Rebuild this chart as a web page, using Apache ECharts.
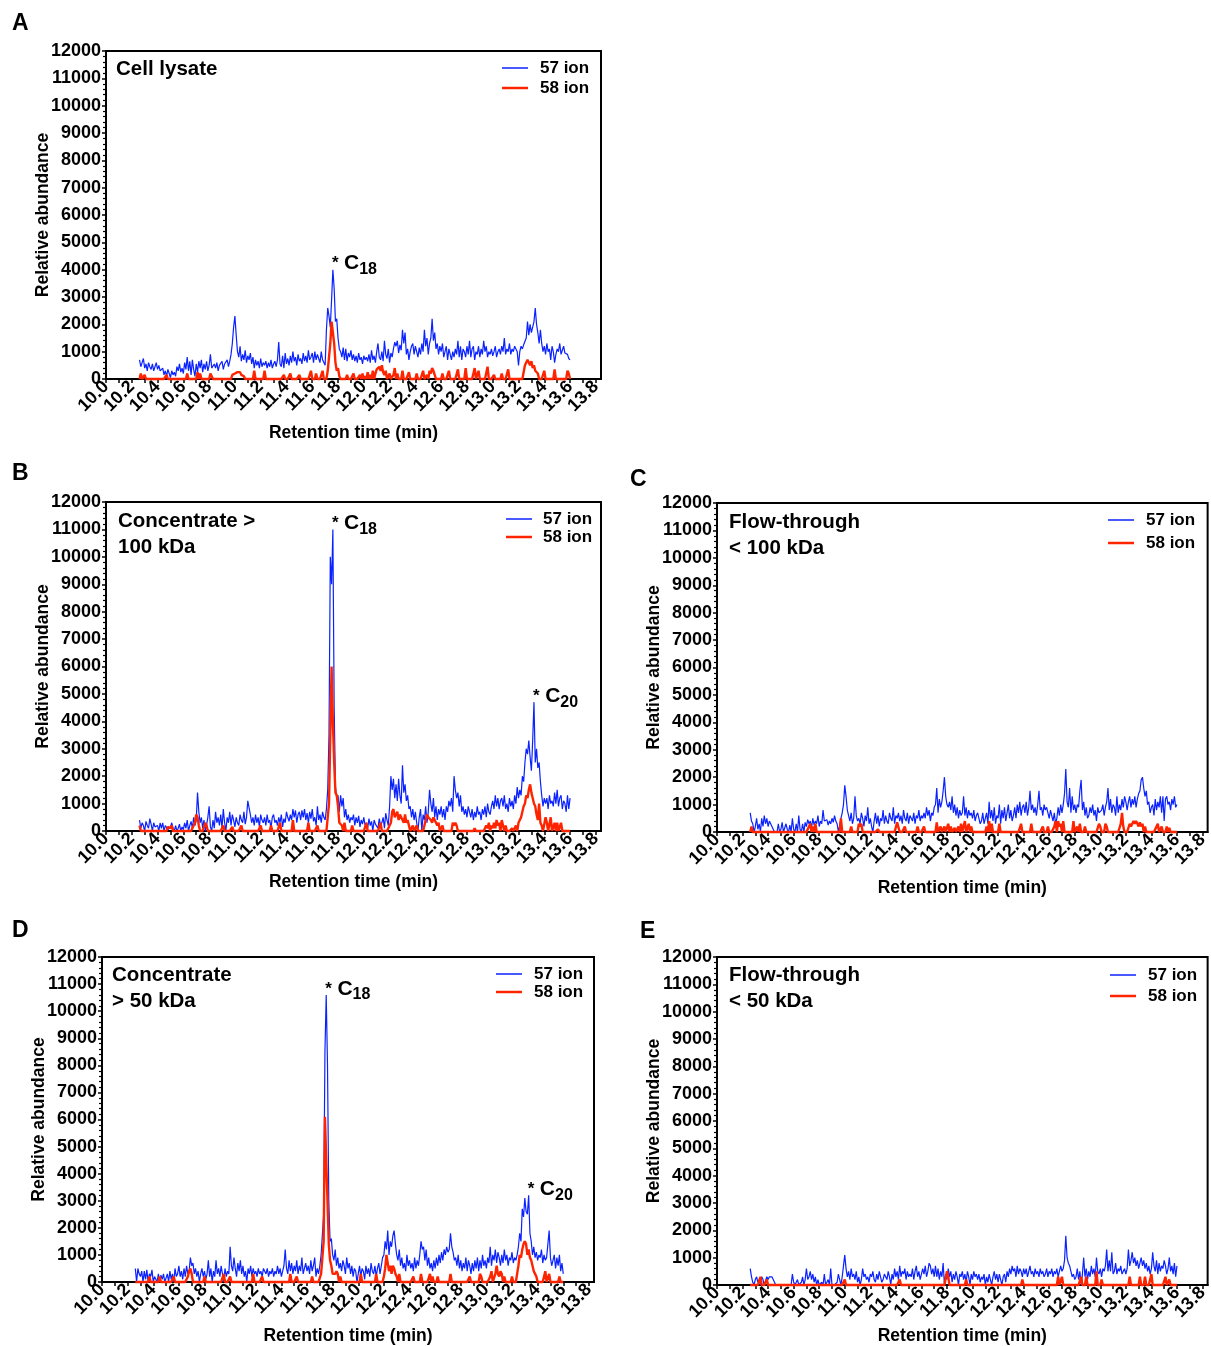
<!DOCTYPE html>
<html>
<head>
<meta charset="utf-8">
<script src="https://cdn.jsdelivr.net/npm/echarts@6/dist/echarts.min.js"></script>
<style>
  html, body { margin: 0; padding: 0; background: #fff; }
  #chart { width: 1211px; height: 1346px; }
</style>
</head>
<body>
<div id="chart"></div>
<script>
// Extracted ion chromatograms (m/z 57 and 58), one scan every 0.01 min starting at 10.26 min.
const scanStart = 10.26;
const scanStep = 0.01;

// A: cell lysate
const cellLysate57 = [
  700, 450, 600, 750,
  400, 550, 300, 600, 450, 350, 550, 300, 450, 600,
  350, 500, 300,
  250, 400, 150, 300, 100, 350, 200, 50, 300, 150,
  250, 100, 450, 300, 550, 250, 400, 200, 600, 350,
  800, 300, 650, 150, 700, 350, 100, 550, 250, 650,
  400, 700, 250, 550, 350, 650, 300, 500, 900, 400,
  350, 550, 400, 600, 300, 500, 450, 650, 350, 550,
  500, 700, 450, 650, 900, 1300, 1900, 2300, 1600, 1000,
  800, 1200, 650, 900, 700, 1050, 600, 850, 700, 950,
  550, 800, 400, 700, 500, 650, 400, 750, 450, 600,
  500, 650, 400, 600, 450, 700, 400, 550, 650, 450,
  700, 1350, 550, 450, 850, 400, 950, 550, 750, 500,
  850, 600, 1000, 650, 800, 500, 900, 650, 750, 550,
  950, 650, 850, 600, 1050, 700, 800, 950, 600, 1000,
  700, 900, 750, 600, 1000, 700, 600, 500, 1800,
  2600, 2300, 1900, 2900, 4000, 3300, 2100, 2200, 1500, 1100,
  1000, 800, 1150, 700, 1100, 650, 950, 800, 1050, 700,
  900, 650, 850, 600, 950, 700, 800, 550, 850, 700,
  800, 650, 900, 600, 1050, 700, 850, 600, 1000, 1300,
  800, 700, 1000, 650, 1400, 900, 750, 1100, 600, 950,
  800, 1100, 1350, 1200, 1400, 950, 1250, 1050, 1800, 1300,
  1700, 900, 1100, 700, 1000, 1200, 1300, 900, 1200,
  1000, 800, 1150, 900, 1300, 1000, 1800, 1200, 1500, 900,
  1300, 1500, 2200, 1400, 1700, 1100, 1300, 900, 1200, 1000,
  1300, 800, 1000, 1200, 700, 1100, 900, 700, 1000, 800,
  1100, 900, 1400, 800, 1200, 700, 1100, 1000, 800, 1200,
  900, 1400, 800, 1100, 1200, 700, 1000, 900, 1200, 800,
  1100, 900, 1400, 1000, 1200, 800, 1000, 900, 1100, 850,
  1000, 1200, 800, 1000, 1100, 900, 1200, 1000, 1500,
  900, 1100, 1000, 1300, 900, 1100, 1000, 1200, 1100, 1000,
  500, 1000, 1200, 1100, 1250, 1200, 1500, 2100, 1600, 2000,
  1700, 1900, 2100, 2600, 2000, 1700, 1300, 1800, 1300, 1000,
  1200, 900, 1300, 1000, 1100, 700, 1200, 1000, 600, 900,
  1100, 1000, 1300, 900, 1050, 1200, 950, 1000, 900, 750,
  700
];
const cellLysate58 = [
  0, 200, 0, 0,
  150, 0, 0, 0, 0, 0, 0, 0, 0, 0,
  0, 0, 0,
  0, 0, 0, 0, 150, 0, 0, 0, 0, 0,
  0, 0, 0, 0, 0, 0, 0, 0, 0, 0,
  200, 0, 0, 0, 0, 0, 0, 0, 250, 0,
  200, 0, 0, 0, 0, 0, 0, 0, 200, 100,
  0, 0, 0, 0, 0, 0, 0, 0, 0, 0,
  0, 0, 0, 0, 0, 150, 200, 200, 150, 250,
  200, 250, 150, 200, 100, 0, 0, 0, 0, 0,
  0, 0, 300, 0, 0, 0, 0, 0, 0, 0,
  300, 0, 0, 0, 0, 0, 0, 0, 0, 0,
  0, 0, 0, 0, 0, 150, 0, 0, 0, 0,
  200, 0, 0, 0, 0, 0, 0, 150, 0, 0,
  0, 0, 0, 0, 0, 0, 300, 0, 0, 0,
  200, 0, 0, 0, 0, 300, 0, 0, 0,
  300, 800, 1300, 2100, 2100, 1300, 600, 300, 400, 100,
  0, 0, 0, 0, 0, 150, 0, 0, 0, 0,
  200, 0, 0, 0, 0, 150, 0, 200, 0, 100,
  0, 250, 0, 150, 0, 300, 0, 200, 350, 300,
  450, 300, 500, 250, 150, 300, 0, 0, 200, 0,
  0, 150, 400, 0, 200, 0, 0, 0, 300, 0,
  0, 0, 0, 250, 0, 0, 0, 0, 0,
  200, 0, 0, 0, 0, 300, 0, 0, 150, 0,
  300, 200, 400, 300, 150, 0, 0, 0, 0, 0,
  200, 0, 0, 0, 0, 300, 0, 0, 0, 0,
  0, 0, 350, 0, 0, 0, 0, 0, 400, 0,
  0, 0, 0, 0, 0, 400, 0, 0, 300, 0,
  0, 0, 0, 0, 0, 450, 0, 0, 0, 0,
  150, 0, 0, 0, 0, 0, 200, 0, 0,
  0, 0, 350, 0, 0, 0, 0, 0, 0, 0,
  0, 0, 0, 0, 0, 500, 600, 700, 650, 500,
  650, 400, 500, 300, 350, 200, 0, 0, 0, 0,
  300, 0, 0, 0, 0, 0, 0, 0, 350, 0,
  0, 0, 0, 0, 0, 0, 0, 0, 300, 200,
  0
];

// B: concentrate > 100 kDa
const conc100k57 = [
  400, 100, 300, 200,
  0, 350, 200, 100, 450, 250, 0, 300, 150, 200,
  200, 0, 300,
  100, 300, 0, 200, 250, 50, 0, 150, 300, 100,
  0, 200, 0, 100, 250, 0, 150, 50, 300, 100,
  400, 0, 200, 350, 100, 500, 200, 400, 1400, 700,
  300, 500, 100, 400, 0, 200, 500, 900, 150, 0,
  400, 100, 700, 300, 500, 200, 600, 100, 800, 300,
  0, 500, 300, 700, 200, 600, 400, 150, 500, 300,
  200, 600, 400, 300, 700, 250, 500, 1100, 1100, 600,
  300, 500, 200, 600, 300, 500, 150, 600, 400, 300,
  500, 200, 600, 300, 400, 100, 500, 600, 300, 400,
  200, 500, 300, 600, 150, 450, 300, 700, 500, 350,
  600, 400, 800, 500, 750, 300, 600, 700, 400, 750,
  500, 800, 400, 650, 300, 700, 450, 800, 350,
  500, 200, 900, 400, 600, 300, 700, 500, 400, 800,
  1500, 3500, 10000, 9000, 11000, 4500, 1600, 1200, 1300, 700,
  1300, 900, 1200, 500, 800, 400, 600, 300, 500, 400,
  600, 200, 500, 300, 550, 150, 400, 250, 500, 200,
  300, 100, 450, 200, 350, 0, 400, 250, 300, 100,
  450, 200, 300, 500, 100, 650, 400, 200, 900, 2000,
  1500, 1900, 1200, 1700, 1100, 1900, 1300, 1000, 2400, 1400,
  1700, 1100, 1300, 800, 900, 500, 800, 400, 700,
  300, 0, 500, 800, 0, 600, 400, 900, 300, 700,
  1500, 1000, 700, 1200, 500, 900, 400, 800, 600, 900,
  500, 800, 400, 900, 700, 1100, 900, 1200, 700, 2000,
  1500, 1200, 1400, 900, 1300, 700, 900, 600, 800, 500,
  900, 700, 500, 800, 400, 700, 500, 900, 600, 700,
  400, 800, 600, 900, 500, 1000, 700, 600, 900, 1100,
  800, 1300, 900, 1200, 800, 1100, 1200, 900, 1300,
  800, 1000, 700, 1200, 900, 1100, 800, 1300, 1000, 1600,
  1200, 1500, 1300, 2000, 1800, 2500, 3000, 2800, 3300, 2700,
  2200, 3300, 4700, 2500, 3000, 2300, 2500, 1800, 1300, 900,
  1200, 1000, 1200, 800, 1300, 1000, 1100, 900, 1400, 1000,
  1500, 900, 1200, 1300, 800, 1100, 1000, 700, 1300, 800,
  1200
];
const conc100k58 = [
  200, 0, 0, 0,
  0, 0, 0, 0, 0, 0, 0, 0, 0, 0,
  0, 0, 0,
  0, 0, 0, 0, 0, 150, 200, 100, 200, 0,
  0, 0, 0, 0, 0, 0, 0, 0, 0, 0,
  0, 0, 0, 0, 100, 200, 300, 600, 500, 200,
  0, 0, 0, 0, 300, 200, 0, 0, 0, 0,
  0, 0, 0, 0, 0, 0, 0, 0, 200, 0,
  0, 0, 0, 0, 0, 150, 0, 0, 0, 0,
  0, 0, 200, 0, 0, 0, 0, 0, 0, 0,
  0, 0, 0, 0, 0, 0, 0, 200, 0, 0,
  0, 0, 0, 0, 0, 200, 0, 0, 0, 0,
  0, 0, 300, 0, 0, 0, 0, 0, 0, 0,
  0, 0, 400, 0, 0, 0, 0, 0, 0, 0,
  0, 0, 0, 0, 300, 0, 0, 0, 0,
  0, 0, 200, 0, 0, 0, 0, 0, 0, 0,
  0, 1000, 3500, 6000, 4000, 2500, 1400, 1300, 900, 300,
  300, 200, 0, 300, 0, 0, 0, 0, 0, 200,
  0, 0, 0, 0, 0, 0, 0, 0, 0, 0,
  300, 0, 0, 0, 0, 0, 0, 0, 0, 0,
  0, 300, 0, 0, 0, 0, 0, 0, 200, 300,
  700, 800, 500, 600, 700, 400, 600, 500, 400, 300,
  600, 300, 400, 200, 0, 0, 200, 0, 0,
  200, 0, 0, 0, 0, 0, 0, 400, 600, 500,
  500, 400, 300, 500, 400, 300, 200, 300, 0, 0,
  200, 0, 0, 0, 0, 0, 0, 0, 300, 200,
  300, 200, 0, 0, 0, 0, 0, 0, 0, 0,
  0, 0, 0, 0, 0, 100, 0, 0, 0, 0,
  0, 0, 0, 0, 200, 100, 300, 0, 200, 100,
  300, 100, 400, 200, 300, 0, 400, 200, 0,
  200, 0, 0, 0, 0, 100, 0, 0, 200, 0,
  300, 400, 500, 700, 900, 1000, 1300, 1200, 1500, 1700,
  1400, 1200, 1000, 900, 600, 400, 1000, 300, 200, 0,
  0, 500, 300, 0, 0, 500, 0, 0, 300, 0,
  300, 0, 0, 300, 0, 0, 0, 0, 0, 0,
  0
];

// C: flow-through < 100 kDa
const flow100k57 = [
  700, 400, 300, 0,
  200, 500,
  100, 300, 0, 500, 200, 600, 300, 500, 200, 400,
  300, 200, 250, 0, 0, 0, 300, 0, 100, 350,
  0, 0, 300, 100, 0, 250, 0, 500, 100, 0,
  300, 0, 600, 100, 0, 300, 0, 350, 200, 450,
  300, 400, 150, 500, 250, 400, 300, 600, 200, 400,
  300, 800, 400, 350, 450, 250, 400, 300, 500, 350,
  600, 400, 300, 0, 250, 500, 700, 1000, 1700, 1300,
  800, 600, 400, 700, 300, 500, 1300, 600, 400, 500,
  300, 700, 500, 200, 600, 400, 900, 300, 500, 200,
  0, 400, 700, 300, 600, 200, 500, 400, 800, 300,
  600, 400, 300, 700, 500, 400, 900, 300, 600, 500,
  700, 400, 600, 300, 800, 500, 400, 700, 300, 600,
  500, 400, 700, 300, 600, 500, 800, 400, 600, 500,
  700, 500, 900, 600, 800, 400, 700, 600, 900, 1000,
  1600, 700, 1200, 900, 1100, 1500, 2000, 1300, 1000, 900,
  1100, 800, 1300, 700, 1000, 600, 900, 500, 800, 600,
  700, 1300, 600, 900, 500, 800, 600, 700, 500, 800,
  400, 600, 700, 500, 300, 400, 700, 300, 500,
  700, 300, 1100, 500, 800, 400, 900, 300, 600, 500,
  1000, 300, 800, 500, 900, 400, 700, 1000, 500, 800,
  400, 600, 900, 500, 1000, 700, 1100, 600, 900, 1000,
  700, 1100, 600, 900, 1500, 800, 1000, 700, 900, 600,
  1000, 1500, 800, 900, 600, 1000, 800, 900, 700, 500,
  800, 600, 400, 700, 300, 500, 900, 600, 1000, 700,
  1000, 1400, 2300, 1100, 900, 1600, 700, 1300, 800, 1000,
  700, 1000, 900, 1500, 1900, 800, 1100, 600, 900, 500,
  600, 900, 700, 1000, 600, 800, 400, 900, 700, 700,
  800, 1000, 600, 900, 1100, 1600, 800, 1200, 700, 1000,
  900, 600, 1300, 700, 1000, 800, 1200, 900, 1300, 1100,
  800, 1100, 1300, 900, 1200, 1000, 1300, 900, 1200, 1400,
  1500, 1900, 2000, 1600, 1300, 1500, 1000, 1100, 700, 900,
  1000, 600, 1200, 800, 1100, 900, 1300, 700, 1300, 400,
  1200, 1300, 1000, 1100, 800, 1200, 1000, 1300, 900, 1000
];
const flow100k58 = [
  0, 200, 0, 0,
  0, 0,
  0, 0, 0, 0, 0, 0, 0, 0, 0, 0,
  0, 0, 0, 0, 0, 0, 0, 0, 0, 0,
  0, 0, 0, 0, 0, 0, 0, 0, 0, 0,
  0, 0, 0, 0, 0, 0, 0, 0, 0, 0,
  200, 300, 0, 200, 0, 300, 0, 0, 0, 0,
  0, 0, 0, 0, 0, 0, 0, 0, 0, 0,
  0, 0, 0, 0, 0, 500, 0, 0, 0, 0,
  0, 0, 0, 200, 0, 0, 0, 0, 0, 300,
  200, 300, 0, 0, 0, 0, 0, 0, 0, 0,
  0, 0, 0, 0, 100, 0, 0, 0, 0, 0,
  0, 0, 0, 0, 0, 0, 0, 0, 0, 350,
  300, 0, 0, 0, 0, 200, 0, 0, 0, 0,
  0, 0, 0, 0, 0, 200, 0, 0, 0, 0,
  200, 0, 0, 0, 0, 0, 0, 0, 0, 0,
  350, 0, 100, 200, 0, 100, 200, 0, 150, 300,
  0, 200, 0, 0, 150, 0, 0, 200, 0, 300,
  0, 0, 400, 0, 0, 300, 0, 200, 0, 0,
  0, 0, 0, 0, 0, 0, 0, 0, 0,
  200, 0, 400, 0, 300, 0, 0, 0, 0, 0,
  300, 0, 0, 0, 0, 0, 0, 0, 0, 0,
  0, 0, 0, 0, 0, 0, 0, 300, 0, 0,
  0, 0, 0, 0, 0, 300, 0, 0, 0, 0,
  0, 0, 0, 0, 200, 0, 0, 0, 200, 0,
  0, 0, 0, 200, 400, 0, 400, 200, 300, 0,
  400, 0, 0, 0, 0, 0, 0, 0, 400, 0,
  0, 200, 0, 300, 0, 0, 0, 200, 0, 0,
  0, 0, 0, 0, 0, 0, 0, 0, 300, 200,
  0, 0, 0, 300, 200, 0, 0, 0, 0, 0,
  0, 0, 0, 0, 0, 300, 700, 200, 0, 0,
  0, 0, 300, 200, 300, 400, 300, 400, 300, 200,
  350, 200, 300, 0, 200, 0, 0, 0, 0, 0,
  0, 0, 0, 200, 300, 0, 0, 200, 0, 0,
  0, 200, 0, 150, 0, 0, 0, 0, 0, 0
];

// D: concentrate > 50 kDa
const conc50k57 = [
  500, 0, 500, 300,
  200, 400,
  0, 400, 100, 450, 0, 300, 200, 450, 0, 200,
  100, 0, 300, 0, 250, 100, 300, 0, 150, 300,
  0, 400, 100, 300, 0, 500, 200, 300, 600, 200,
  400, 100, 500, 200, 600, 300, 400, 900, 600, 700,
  300, 500, 200, 400, 0, 300, 500, 200, 400, 100,
  300, 800, 200, 500, 0, 400, 200, 800, 300, 500,
  200, 600, 300, 0, 500, 200, 400, 300, 1300, 600,
  400, 900, 500, 200, 700, 400, 800, 300, 600, 200,
  400, 0, 500, 300, 600, 200, 500, 300, 400, 200,
  500, 300, 400, 200, 500, 400, 300, 500, 200, 400,
  300, 500, 200, 400, 300, 600, 300, 500, 200, 400,
  600, 1200, 500, 300, 800, 400, 700, 300, 600, 400,
  800, 300, 600, 400, 900, 300, 500, 700, 400, 600,
  300, 800, 400, 600, 900, 200, 500, 300, 600, 1000,
  1000, 2500, 8500, 10600, 8000, 3000, 1500, 1600, 1000, 800,
  1200, 600, 900, 500, 700, 400, 800, 600, 300, 900,
  500, 700, 300, 600, 200, 500, 400, 0, 300, 600,
  200, 500, 400, 100, 600, 300, 500, 200, 700, 400,
  300, 600, 200, 500, 700, 300, 600, 900, 1000, 1500,
  1200, 1900, 1000, 1500, 1300, 1700, 1900, 1400, 1000, 800,
  1200, 600, 900, 500, 700, 400, 1000, 600, 800, 500,
  700, 400, 900, 500, 800, 600, 1000, 1500, 1200, 1300,
  800, 1200, 600, 900, 500, 700, 400, 800, 500, 900,
  600, 1000, 700, 1100, 800, 1200, 1000, 1300, 1100, 1200,
  1800, 1300, 1100, 800, 900, 600, 1000, 500, 800, 400,
  700, 500, 900, 400, 800, 600, 300, 700, 400, 800,
  500, 900, 400, 800, 500, 1000, 600, 800, 500, 900,
  700, 1300, 600, 1000, 800, 1200, 700, 1100, 900, 600,
  1000, 700, 1200, 800, 1000, 600, 900, 800, 1100, 700,
  900, 800, 1000, 1300, 1800, 1500, 2700, 2400, 3100, 2600,
  2500, 3200, 1800, 1500, 1000, 1300, 900, 1100, 800, 1000,
  900, 1200, 700, 1000, 800, 900, 1400, 1900, 900, 600,
  800, 1000, 500, 900, 600, 1000, 400, 700, 300
];
const conc50k58 = [
  0, 0, 0, 0,
  0, 0,
  0, 0, 0, 0, 0, 200, 0, 0, 0, 0,
  0, 0, 0, 200, 0, 0, 0, 0, 0, 0,
  0, 0, 0, 0, 200, 0, 0, 0, 0, 0,
  0, 0, 0, 0, 0, 200, 400, 500, 300, 0,
  0, 0, 0, 0, 0, 0, 0, 0, 200, 0,
  0, 0, 0, 0, 0, 0, 0, 0, 0, 0,
  0, 0, 0, 300, 0, 0, 0, 0, 200, 0,
  0, 0, 0, 0, 0, 0, 0, 0, 0, 0,
  0, 0, 0, 0, 0, 0, 300, 0, 0, 0,
  0, 0, 0, 200, 0, 0, 0, 0, 0, 0,
  0, 0, 0, 0, 0, 0, 0, 0, 0, 0,
  0, 0, 0, 0, 0, 300, 0, 0, 0, 0,
  200, 0, 0, 0, 0, 0, 0, 0, 0, 0,
  0, 0, 200, 0, 0, 0, 0, 0, 0, 300,
  300, 1500, 6100, 4500, 3000, 1400, 800, 600, 300, 300,
  300, 400, 300, 0, 200, 0, 0, 0, 0, 0,
  0, 0, 0, 0, 0, 0, 0, 0, 0, 0,
  300, 0, 0, 0, 0, 0, 0, 0, 0, 0,
  0, 0, 300, 0, 0, 0, 0, 0, 200, 500,
  1000, 700, 400, 600, 300, 600, 500, 300, 200, 0,
  300, 0, 0, 0, 0, 0, 0, 0, 0, 0,
  0, 200, 0, 0, 0, 0, 0, 300, 0, 0,
  0, 0, 0, 0, 300, 0, 200, 0, 0, 0,
  200, 0, 0, 0, 0, 0, 0, 0, 0, 0,
  300, 0, 0, 0, 0, 0, 0, 0, 0, 0,
  0, 0, 0, 0, 0, 200, 0, 0, 0, 0,
  0, 0, 0, 300, 200, 0, 0, 0, 0, 0,
  0, 200, 400, 0, 0, 300, 600, 300, 200, 400,
  300, 0, 200, 0, 0, 0, 0, 0, 200, 0,
  0, 0, 300, 600, 1000, 900, 1200, 1400, 1500, 1400,
  1000, 1200, 900, 800, 600, 400, 300, 200, 0, 0,
  0, 0, 0, 0, 400, 0, 0, 300, 0, 0,
  0, 0, 0, 0, 0, 200, 0, 0, 0
];

// E: flow-through < 50 kDa
const flow50k57 = [
  600, 300, 100, 0,
  200,
  300, 100, 200, 0, 300, 200, 0, 0, 300, 200,
  300, 250, 300, 200, 100, 0, 0, 0, 0, 0,
  0, 0, 0, 0, 0, 0, 0, 0, 400, 100,
  0, 0, 200, 0, 0, 100, 300, 0, 200, 600,
  200, 300, 500, 200, 400, 100, 300, 0, 200, 0,
  0, 100, 0, 400, 0, 0, 200, 0, 600, 0,
  0, 0, 0, 100, 400, 200, 0, 300, 700, 1100,
  600, 300, 500, 200, 600, 300, 400, 200, 500, 100,
  300, 0, 200, 600, 300, 400, 200, 300, 100, 400,
  300, 500, 200, 100, 400, 200, 500, 300, 100, 200,
  400, 300, 200, 500, 300, 0, 400, 200, 600, 300,
  500, 200, 700, 300, 500, 400, 600, 200, 500, 300,
  400, 300, 600, 200, 500, 700, 300, 500, 200, 400,
  600, 400, 700, 300, 500, 800, 700, 400, 600, 300,
  700, 300, 600, 200, 500, 300, 800, 0, 400, 200,
  600, 300, 500, 100, 400, 200, 500, 300, 0, 400,
  300, 500, 200, 400, 100, 500, 300, 0, 400, 200,
  500, 300, 400, 200, 400, 100, 300, 200, 400, 0,
  300, 100, 400, 200, 0, 300, 500, 200, 400, 100,
  400, 200, 0, 300, 400, 100, 500, 300, 600, 400,
  700, 500, 600, 300, 700, 400, 600, 500, 300, 600,
  400, 600, 300, 500, 700, 400, 500, 300, 600, 400,
  500, 300, 600, 400, 500, 300, 400, 600, 300, 500,
  400, 600, 300, 500, 400, 600, 300, 500, 700, 500,
  600, 900, 1800, 1000, 800, 700, 500, 300, 400, 200,
  300, 600, 200, 500, 0, 400, 1000, 300, 600, 200,
  500, 300, 700, 400, 600, 300, 1000, 500, 400, 600,
  300, 600, 500, 700, 1300, 500, 900, 500, 1200, 400,
  500, 800, 400, 600, 500, 700, 400, 500, 600, 400,
  600, 1300, 700, 900, 1200, 800, 1000, 700, 900, 600,
  800, 1000, 700, 900, 600, 800, 500, 700, 400, 600,
  1200, 700, 500, 900, 400, 800, 500, 700, 600, 900,
  700, 400, 600, 1000, 500, 700, 400, 800, 300,
  700
];
const flow50k58 = [
  0, 0, 0, 0,
  0,
  0, 0, 0, 300, 0, 0, 0, 0, 200, 0,
  0, 0, 0, 0, 0, 0, 0, 0, 0, 0,
  0, 0, 0, 0, 0, 0, 0, 0, 0, 0,
  0, 0, 0, 0, 0, 0, 0, 0, 0, 0,
  0, 0, 0, 0, 0, 0, 0, 0, 0, 0,
  0, 0, 0, 0, 0, 0, 0, 0, 0, 0,
  0, 0, 0, 0, 0, 0, 0, 0, 0, 200,
  0, 0, 0, 0, 0, 0, 0, 0, 0, 0,
  0, 0, 0, 0, 0, 0, 0, 0, 0, 0,
  0, 0, 0, 0, 0, 0, 0, 0, 0, 0,
  0, 0, 0, 0, 0, 0, 0, 0, 0, 0,
  0, 0, 200, 0, 0, 0, 0, 0, 0, 0,
  0, 0, 0, 0, 0, 0, 0, 0, 0, 0,
  0, 0, 0, 0, 0, 0, 0, 0, 0, 0,
  0, 0, 0, 0, 0, 0, 0, 0, 0, 500,
  300, 0, 0, 0, 0, 0, 0, 0, 0, 0,
  0, 0, 0, 0, 200, 0, 0, 0, 0, 0,
  0, 0, 0, 0, 0, 0, 0, 0, 0, 0,
  0, 0, 0, 0, 0, 0, 0, 0, 0, 0,
  0, 0, 0, 0, 0, 0, 0, 0, 0, 0,
  0, 0, 0, 0, 0, 0, 0, 0, 200, 0,
  0, 0, 0, 0, 0, 0, 0, 0, 0, 0,
  0, 0, 0, 0, 0, 0, 0, 0, 0, 0,
  0, 0, 0, 0, 0, 0, 300, 0, 0, 300,
  0, 0, 0, 0, 0, 0, 0, 0, 0, 0,
  0, 0, 0, 0, 300, 0, 0, 0, 300, 0,
  0, 0, 0, 0, 0, 0, 500, 0, 0, 0,
  200, 0, 0, 0, 0, 0, 0, 0, 0, 0,
  0, 0, 0, 0, 0, 0, 0, 0, 0, 0,
  0, 0, 300, 0, 0, 0, 0, 0, 0, 0,
  300, 0, 0, 0, 300, 0, 0, 0, 0, 400,
  0, 0, 0, 0, 0, 0, 0, 0, 0, 0,
  300, 0, 0, 200, 0, 0, 0, 0, 0,
  0
];

// Axis ticks
const timeLabelValues = [10.0, 10.2, 10.4, 10.6, 10.8, 11.0, 11.2, 11.4, 11.6, 11.8,
  12.0, 12.2, 12.4, 12.6, 12.8, 13.0, 13.2, 13.4, 13.6, 13.8];
const timeTickValues = [10.0, 10.1, 10.2, 10.3, 10.4, 10.5, 10.6, 10.7, 10.8, 10.9,
  11.0, 11.1, 11.2, 11.3, 11.4, 11.5, 11.6, 11.7, 11.8, 11.9,
  12.0, 12.1, 12.2, 12.3, 12.4, 12.5, 12.6, 12.7, 12.8, 12.9,
  13.0, 13.1, 13.2, 13.3, 13.4, 13.5, 13.6, 13.7, 13.8];

const ionNames = ['57 ion', '58 ion'];

const scanTime = k => +(scanStart + k * scanStep).toFixed(2);

const FONT = '"Liberation Sans", Arial, Helvetica, sans-serif';
const BLUE = '#0a22ff';
const RED = '#ff2400';
const BLACK = '#000';

const panels = [
  { letter: 'A', letterPos: { left: 12, top: 12 },
    title: 'Cell lysate', titlePos: { left: 116, top: 56 },
    ion57: cellLysate57, ion58: cellLysate58,
    grid: { left: 106, top: 51, width: 495, height: 328 },
    legend: { x: 502, rows: [68, 88], textGap: 12 }, xNameGap: 45,
    peaks: [{ carbons: '18', from: 11.6, to: 11.9 }] },
  { letter: 'B', letterPos: { left: 12, top: 462 },
    title: 'Concentrate >\n100 kDa', titlePos: { left: 118, top: 508 },
    ion57: conc100k57, ion58: conc100k58,
    grid: { left: 106, top: 502, width: 495, height: 329 },
    legend: { x: 506, rows: [519, 537], textGap: 11 }, xNameGap: 42,
    peaks: [{ carbons: '18', from: 11.6, to: 11.9 }, { carbons: '20', from: 13.2, to: 13.45 }] },
  { letter: 'C', letterPos: { left: 630, top: 468 },
    title: 'Flow-through\n< 100 kDa', titlePos: { left: 729, top: 509 },
    ion57: flow100k57, ion58: flow100k58,
    grid: { left: 717, top: 503, width: 491, height: 329 },
    legend: { x: 1108, rows: [520, 543], textGap: 12 }, xNameGap: 47,
    peaks: [] },
  { letter: 'D', letterPos: { left: 12, top: 919 },
    title: 'Concentrate\n> 50 kDa', titlePos: { left: 112, top: 962 },
    ion57: conc50k57, ion58: conc50k58,
    grid: { left: 102, top: 957, width: 492, height: 328 },
    legend: { x: 496, rows: [974, 992], textGap: 12 }, xNameGap: 45,
    peaks: [{ carbons: '18', from: 11.6, to: 11.9 }, { carbons: '20', from: 13.2, to: 13.45 }] },
  { letter: 'E', letterPos: { left: 640, top: 920 },
    title: 'Flow-through\n< 50 kDa', titlePos: { left: 729, top: 962 },
    ion57: flow50k57, ion58: flow50k58,
    grid: { left: 717, top: 957, width: 491, height: 328 },
    legend: { x: 1110, rows: [975, 996], textGap: 12 }, xNameGap: 42,
    peaks: [] }
];

// Highest point of a trace inside a retention-time window
function peakOf(values, from, to) {
  let best = -1;
  values.forEach((v, i) => {
    const t = scanTime(i);
    if (t >= from && t <= to && (best < 0 || v > values[best])) best = i;
  });
  return [scanTime(best), values[best]];
}

const boldText = (size, extra) => Object.assign(
  { fontFamily: FONT, fontWeight: 'bold', fontSize: size, color: BLACK }, extra || {});

const option = {
  animation: false,
  backgroundColor: '#fff',
  title: [],
  grid: [],
  xAxis: [],
  yAxis: [],
  series: [],
  graphic: []
};

const ionStyles = [
  { color: BLUE, width: 1.2, keyWidth: 1.5 },
  { color: RED, width: 2.4, keyWidth: 2.5 }
];

panels.forEach((p, i) => {
  option.title.push({ text: p.letter, left: p.letterPos.left, top: p.letterPos.top, padding: 0,
    textStyle: boldText(23) });
  option.title.push({ text: p.title, left: p.titlePos.left, top: p.titlePos.top, padding: 0,
    textStyle: boldText(20.5, { lineHeight: 26 }) });

  option.grid.push(Object.assign({ show: true, borderColor: BLACK, borderWidth: 2,
    backgroundColor: 'transparent' }, p.grid));

  option.xAxis.push({
    type: 'value', gridIndex: i, min: 10, max: 13.84,
    axisLine: { show: true, onZero: false, lineStyle: { color: BLACK, width: 2 } },
    axisTick: { show: true, length: 4, customValues: timeTickValues, lineStyle: { color: BLACK, width: 1.5 } },
    axisLabel: Object.assign(boldText(18), { customValues: timeLabelValues, rotate: 45, margin: 5,
      formatter: v => Number(v).toFixed(1) }),
    splitLine: { show: false },
    name: 'Retention time (min)', nameLocation: 'middle', nameGap: p.xNameGap,
    nameTextStyle: boldText(17.5)
  });

  option.yAxis.push({
    type: 'value', gridIndex: i, min: 0, max: 12000, interval: 1000,
    axisLine: { show: true, lineStyle: { color: BLACK, width: 2 } },
    axisTick: { show: true, length: 4, lineStyle: { color: BLACK, width: 1.5 } },
    minorTick: { show: true, splitNumber: 5, length: 3, lineStyle: { color: BLACK, width: 1.2 } },
    axisLabel: Object.assign(boldText(18), { margin: 5, formatter: v => String(v) }),
    splitLine: { show: false },
    minorSplitLine: { show: false },
    name: 'Relative abundance', nameLocation: 'middle', nameGap: 54, nameMoveOverlap: false,
    nameTextStyle: boldText(17.5)
  });

  // Key: short line sample followed by the ion label
  ionNames.forEach((name, j) => {
    const y = p.legend.rows[j];
    option.graphic.push({
      type: 'line', silent: true,
      shape: { x1: p.legend.x, y1: y, x2: p.legend.x + 26, y2: y },
      style: { stroke: ionStyles[j].color, lineWidth: ionStyles[j].keyWidth }
    });
    option.graphic.push({
      type: 'text', silent: true, x: p.legend.x + 26 + p.legend.textGap, y: y,
      style: { text: name, fill: BLACK, font: 'bold 17px ' + FONT,
        align: 'left', verticalAlign: 'middle', textVerticalAlign: 'middle' }
    });
  });

  option.series.push({
    type: 'line', name: ionNames[0], xAxisIndex: i, yAxisIndex: i,
    data: p.ion57.map((v, k) => [scanTime(k), v]),
    symbol: 'none', clip: false, z: 2,
    lineStyle: { color: BLUE, width: ionStyles[0].width }, itemStyle: { color: BLUE },
    markPoint: {
      symbol: 'circle', symbolSize: 2, silent: true,
      itemStyle: { color: 'rgba(0,0,0,0)' },
      data: p.peaks.map(pk => ({
        coord: peakOf(p.ion57, pk.from, pk.to),
        label: {
          show: true, position: [0, -19], align: 'left', verticalAlign: 'top',
          formatter: '{s|*} {c|C}{sub|' + pk.carbons + '}',
          fontFamily: FONT, fontWeight: 'bold', fontSize: 20, color: BLACK,
          rich: {
            s: { fontFamily: FONT, fontWeight: 'bold', fontSize: 17, color: BLACK, lineHeight: 28 },
            c: { fontFamily: FONT, fontWeight: 'bold', fontSize: 21, color: BLACK, lineHeight: 28 },
            sub: { fontFamily: FONT, fontWeight: 'bold', fontSize: 16, color: BLACK,
              lineHeight: 15, padding: [13, 0, 0, 0], verticalAlign: 'bottom' }
          }
        }
      }))
    }
  });
  option.series.push({
    type: 'line', name: ionNames[1], xAxisIndex: i, yAxisIndex: i,
    data: p.ion58.map((v, k) => [scanTime(k), v]),
    symbol: 'none', clip: false, z: 3,
    lineStyle: { color: RED, width: ionStyles[1].width }, itemStyle: { color: RED }
  });
});

const chart = echarts.init(document.getElementById('chart'), null, { renderer: 'canvas' });
chart.setOption(option);
</script>
</body>
</html>
